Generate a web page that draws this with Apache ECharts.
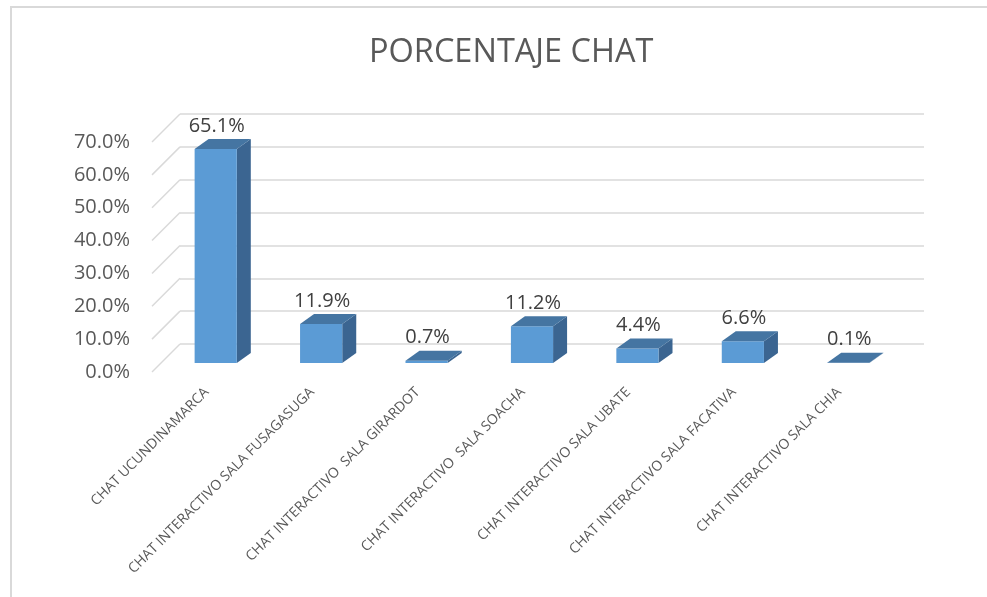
<!DOCTYPE html>
<html>
<head>
<meta charset="utf-8">
<title>PORCENTAJE CHAT</title>
<script src="https://cdn.jsdelivr.net/npm/echarts@6/dist/echarts.min.js"></script>
<style>
  html, body { margin: 0; padding: 0; background: #fff; }
  #chart { width: 987px; height: 597px; }
</style>
</head>
<body>
<div id="chart"></div>
<script>
var categories = [
  'CHAT UCUNDINAMARCA',
  'CHAT INTERACTIVO SALA FUSAGASUGA',
  'CHAT INTERACTIVO  SALA GIRARDOT',
  'CHAT INTERACTIVO  SALA SOACHA',
  'CHAT INTERACTIVO SALA UBATE',
  'CHAT INTERACTIVO SALA FACATIVA',
  'CHAT INTERACTIVO SALA CHIA'
]
var values = [65.1, 11.9, 0.7, 11.2, 4.4, 6.6, 0.1]
var yTicks = [0, 10, 20, 30, 40, 50, 60, 70]

// fake 3d: offset of the back wall and of a bar's depth
var wallDepth = [28, -28]
var barDepth = [14, -10]

var font = '"Open Sans", "Noto Sans", sans-serif'

function renderWallLine (params, api) {
  var p = api.coord([0, api.value(0)])
  return {
    type: 'line',
    shape: { x1: p[0], y1: p[1], x2: p[0] + wallDepth[0], y2: p[1] + wallDepth[1] },
    style: { stroke: '#d9d9d9', lineWidth: 1.5 },
    silent: true
  }
}

function renderBar (params, api) {
  var idx = api.value(0)
  var base = api.coord([idx, 0])
  var top = api.coord([idx, api.value(1)])
  var w = api.size([1, 0])[0] * 0.4
  var x0 = base[0] - w / 2
  var x1 = x0 + w
  var yb = base[1]
  var yt = top[1]
  var dx = barDepth[0]
  var dy = barDepth[1]
  return {
    type: 'group',
    children: [
      {
        type: 'polygon',
        shape: { points: [[x1, yt], [x1 + dx, yt + dy], [x1 + dx, yb + dy], [x1, yb]] },
        style: { fill: '#3b6591' }
      },
      {
        type: 'rect',
        shape: { x: x0, y: yt, width: w, height: yb - yt },
        style: { fill: '#5b9bd5' }
      },
      {
        type: 'polygon',
        shape: { points: [[x0, yt], [x1, yt], [x1 + dx, yt + dy], [x0 + dx, yt + dy]] },
        style: { fill: '#4575a2' }
      },
      {
        type: 'text',
        style: {
          x: base[0] + 1,
          y: yt + dy - 3,
          text: api.value(1).toFixed(1) + '%',
          align: 'center',
          verticalAlign: 'bottom',
          fill: '#404040',
          font: '20px ' + font
        }
      }
    ]
  }
}

var option = {
  animation: false,
  backgroundColor: '#fff',
  title: {
    text: 'PORCENTAJE CHAT',
    left: 364,
    top: 31,
    textStyle: { fontFamily: font, fontSize: 32.5, fontWeight: 'normal', color: '#595959' }
  },
  graphic: [
    {
      type: 'rect',
      shape: { x: 11, y: 7, width: 1000, height: 620 },
      style: { fill: 'none', stroke: '#d9d9d9', lineWidth: 2 },
      silent: true
    }
  ],
  grid: [
    // front edge (axis labels, left wall)
    { left: 152, top: 142, width: 744, height: 230 },
    // bar plane
    { left: 163, top: 133, width: 738, height: 230 },
    // back wall
    { left: 180, top: 114, width: 744, height: 230 },
    // category labels, sit a little left of the bars
    { left: 154, top: 133, width: 738, height: 230 }
  ],
  xAxis: [
    { gridIndex: 0, type: 'value', min: 0, max: 1, show: false },
    { gridIndex: 1, type: 'category', data: categories, show: false },
    { gridIndex: 2, type: 'value', min: 0, max: 1, show: false },
    {
      gridIndex: 3,
      type: 'category',
      data: categories,
      axisLine: { show: false },
      axisTick: { show: false },
      axisLabel: {
        interval: 0,
        rotate: 45,
        margin: 27,
        fontFamily: font,
        fontSize: 14,
        color: '#595959'
      }
    }
  ],
  yAxis: [
    {
      gridIndex: 0,
      type: 'value',
      min: 0,
      max: 70,
      interval: 10,
      axisLine: { show: false },
      axisTick: { show: false },
      splitLine: { show: false },
      axisLabel: {
        margin: 22,
        fontFamily: font,
        fontSize: 20,
        color: '#595959',
        formatter: function (v) { return v.toFixed(1) + '%' }
      }
    },
    { gridIndex: 1, type: 'value', min: 0, max: 70, show: false },
    {
      gridIndex: 2,
      type: 'value',
      min: 0,
      max: 70,
      interval: 10,
      axisLine: { show: false },
      axisTick: { show: false },
      axisLabel: { show: false },
      splitLine: { show: true, lineStyle: { color: '#d9d9d9', width: 1.5 } }
    },
    { gridIndex: 3, type: 'value', min: 0, max: 70, show: false }
  ],
  series: [
    {
      type: 'custom',
      xAxisIndex: 0,
      yAxisIndex: 0,
      renderItem: renderWallLine,
      data: yTicks.map(function (v) { return [v] }),
      encode: { y: 0 },
      silent: true
    },
    {
      type: 'custom',
      xAxisIndex: 1,
      yAxisIndex: 1,
      renderItem: renderBar,
      data: values.map(function (v, i) { return [i, v] }),
      encode: { x: 0, y: 1 },
      z: 5
    }
  ]
}

var chart = echarts.init(document.getElementById('chart'))
chart.setOption(option)
</script>
</body>
</html>
